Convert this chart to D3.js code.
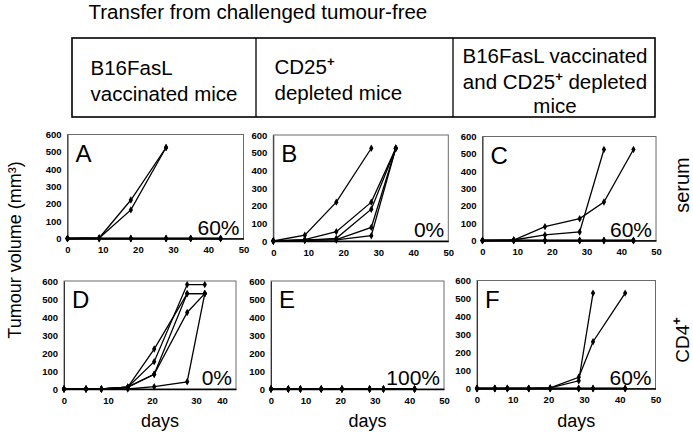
<!DOCTYPE html>
<html><head><meta charset="utf-8">
<script src="https://cdn.jsdelivr.net/npm/d3@7"></script>
<style>
body{margin:0;background:#fff}
text{font-family:"Liberation Sans",Arial,sans-serif;fill:#000}
</style>
</head><body>
<svg id="chart" width="693" height="436"></svg>
<script>
// ---------- data ----------
const headerTitle = "Transfer from challenged tumour-free";
const yTicks = [0, 100, 200, 300, 400, 500, 600];
const xTicks = [0, 10, 20, 30, 40, 50];
const xTicksD = [0, 10, 20, 30, 40];
const daysTop = [0, 9, 18, 28, 35, 43.5];
const daysD = [0, 5, 8.5, 14.5, 20.5, 28, 32];
const daysBottom = [0, 5, 8.5, 14.5, 20.5, 28.5, 32.5, 41.5];

const seriesA = [
  [0, 3, 222, 525, null, null],
  [0, 3, 165, 525, null, null],
  [0, 0, 0, 0, 0, 0],
  [0, 0, 0, 0, 0, 0],
  [0, 0, 0, 0, 0, 0]
];
const seriesB = [
  [0, 33, 220, 525, null, null],
  [0, 8, 53, 220, 525, null],
  [0, 5, 15, 180, 525, null],
  [0, 5, 8, 77, 525, null],
  [0, 3, 6, 30, 525, null]
];
const seriesC = [
  [0, 3, 32, 49, 525, null],
  [0, 3, 80, 126, 222, 525],
  [0, 0, 0, 0, 0, 0],
  [0, 0, 0, 0, 0, 0],
  [0, 0, 0, 0, 0, 0]
];
const seriesD = [
  [0, 0, 0, 10, 222, 530, 530],
  [0, 0, 0, 10, 152, 580, 580],
  [0, 0, 0, 10, 82, 530, 530],
  [0, 0, 0, 10, 82, 425, 530],
  [0, 0, 0, 0, 13, 40, 530]
];
const seriesE = [
  [0, 0, 0, 0, 0, 0, 0, 0],
  [0, 0, 0, 0, 0, 0, 0, 0],
  [0, 0, 0, 0, 0, 0, 0, 0],
  [0, 0, 0, 0, 0, 0, 0, 0],
  [0, 0, 0, 0, 0, 0, 0, 0]
];
const seriesF = [
  [0, 0, 0, 0, 3, 43, 530, null],
  [0, 0, 0, 0, 3, 62, 260, 530],
  [0, 0, 0, 0, 0, 0, 0, 0],
  [0, 0, 0, 0, 0, 0, 0, 0],
  [0, 0, 0, 0, 0, 0, 0, 0]
];
const panelLetters = ["A", "B", "C", "D", "E", "F"];
const tumourFree = ["60%", "0%", "60%", "0%", "100%", "60%"];

// ---------- layout ----------
const svg = d3.select("#chart");
const FONT = '"Liberation Sans",Arial,sans-serif';

const panels = [
  {days: daysTop, series: seriesA, xr: [67.5, 243.5], xmax: 50, yr: [238.5, 134.5], ticks: xTicks},
  {days: daysTop, series: seriesB, xr: [273.3, 448.3], xmax: 50, yr: [241, 135], ticks: xTicks},
  {days: daysTop, series: seriesC, xr: [482.5, 656], xmax: 50, yr: [240.5, 136.5], ticks: xTicks},
  {days: daysD, series: seriesD, xr: [64, 236], xmax: 39.1, yr: [389, 281], ticks: xTicksD, lastShift: -18},
  {days: daysBottom, series: seriesE, xr: [271, 444], xmax: 50, yr: [389, 281], ticks: xTicks},
  {days: daysBottom, series: seriesF, xr: [477, 655.5], xmax: 50, yr: [388.5, 280.5], ticks: xTicks}
];

panels.forEach((p, i) => {
  const x = d3.scaleLinear().domain([0, p.xmax]).range(p.xr);
  const y = d3.scaleLinear().domain([0, 600]).range(p.yr);
  const g = svg.append("g");

  g.append("rect")
    .attr("x", p.xr[0]).attr("y", p.yr[1])
    .attr("width", p.xr[1] - p.xr[0]).attr("height", p.yr[0] - p.yr[1])
    .attr("fill", "none").attr("stroke", "#6a6a6a").attr("stroke-width", 1);

  const ya = g.append("g").attr("transform", `translate(${p.xr[0]},0)`)
    .call(d3.axisLeft(y).tickValues(yTicks).tickSize(0).tickPadding(6));
  ya.select(".domain").attr("stroke", "#333");
  ya.selectAll("text").attr("font-family", FONT).attr("font-size", 9.5).attr("font-weight", "bold");

  const xa = g.append("g").attr("transform", `translate(0,${p.yr[0]})`)
    .call(d3.axisBottom(x).tickValues(p.ticks).tickSize(0).tickPadding(8));
  xa.select(".domain").attr("stroke", "#000").attr("stroke-width", 1.6);
  xa.selectAll("text").attr("font-family", FONT).attr("font-size", 9.5).attr("font-weight", "bold");
  if (p.lastShift) {
    xa.selectAll(".tick").filter((d, k, n) => k === n.length - 1)
      .select("text").attr("dx", p.lastShift);
  }

  const line = d3.line()
    .defined(d => d.v !== null)
    .x(d => x(d.t)).y(d => y(d.v));
  p.series.forEach(s => {
    const pts = s.map((v, k) => ({t: p.days[k], v}));
    g.append("path").datum(pts)
      .attr("d", line).attr("fill", "none")
      .attr("stroke", "#000").attr("stroke-width", 1.3);
    g.selectAll(null).data(pts.filter(d => d.v !== null)).enter()
      .append("path")
      .attr("d", d3.symbol(d3.symbolDiamond).size(16))
      .attr("transform", d => `translate(${x(d.t)},${y(d.v)})`)
      .attr("fill", "#000");
  });

  g.append("text").attr("x", p.xr[0] + 8).attr("y", p.yr[1] + 27)
    .attr("font-size", 24).text(panelLetters[i]);
  g.append("text").attr("x", p.xr[1] - 4).attr("y", p.yr[0] - 4)
    .attr("text-anchor", "end").attr("font-size", 21).text(tumourFree[i]);

  if (i >= 3) {
    g.append("text").attr("x", (p.xr[0] + p.xr[1]) / 2 + 10).attr("y", 427)
      .attr("text-anchor", "middle").attr("font-size", 18).text("days");
  }
});

// ---------- header ----------
svg.append("text").attr("x", 88.5).attr("y", 19).attr("font-size", 20.5).text(headerTitle);
const tb = {x0: 72, x1: 655, y0: 38, y1: 117, d1: 256, d2: 453};
svg.append("rect").attr("x", tb.x0).attr("y", tb.y0)
  .attr("width", tb.x1 - tb.x0).attr("height", tb.y1 - tb.y0)
  .attr("fill", "none").attr("stroke", "#000").attr("stroke-width", 1.6);
[tb.d1, tb.d2].forEach(xv => svg.append("line")
  .attr("x1", xv).attr("x2", xv).attr("y1", tb.y0).attr("y2", tb.y1)
  .attr("stroke", "#000").attr("stroke-width", 1.3));

function cellText(xv, yv, anchor, parts) {
  const t = svg.append("text").attr("x", xv).attr("y", yv)
    .attr("text-anchor", anchor).attr("font-size", 20.5);
  let raised = false;
  parts.forEach(pt => {
    if (pt.sup) {
      t.append("tspan").attr("font-size", 13).attr("font-weight", "bold")
        .attr("dy", -8).text(pt.sup);
      raised = true;
    } else {
      const ts = t.append("tspan").text(pt.t);
      if (raised) { ts.attr("dy", 8); raised = false; }
    }
  });
}
cellText(90.5, 75, "start", [{t: "B16FasL"}]);
cellText(90.5, 101, "start", [{t: "vaccinated mice"}]);
cellText(274.5, 74, "start", [{t: "CD25"}, {sup: "+"}]);
cellText(274.5, 100, "start", [{t: "depleted mice"}]);
cellText(555, 63, "middle", [{t: "B16FasL vaccinated"}]);
cellText(555, 89, "middle", [{t: "and CD25"}, {sup: "+"}, {t: " depleted"}]);
cellText(555, 113, "middle", [{t: "mice"}]);

// ---------- side labels ----------
svg.append("text").attr("transform", "translate(21,250) rotate(-90)")
  .attr("text-anchor", "middle").attr("font-size", 18).text("Tumour volume (mm³)");
svg.append("text").attr("transform", "translate(689,185) rotate(-90)")
  .attr("text-anchor", "middle").attr("font-size", 20).text("serum");
const cd4 = svg.append("text").attr("transform", "translate(689,340) rotate(-90)")
  .attr("text-anchor", "middle").attr("font-size", 19);
cd4.append("tspan").text("CD4");
cd4.append("tspan").attr("font-size", 13).attr("font-weight", "bold").attr("dy", -8).text("+");
</script>
</body></html>
